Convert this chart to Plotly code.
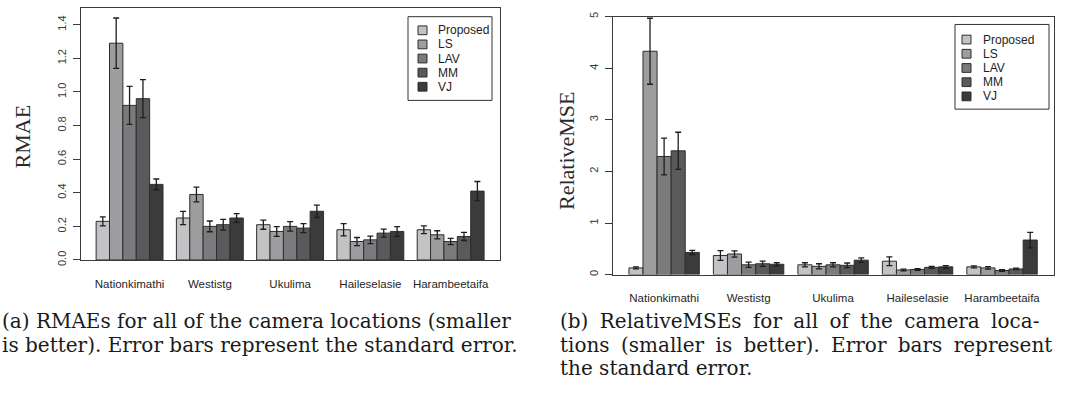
import plotly.graph_objects as go

# ---- data -------------------------------------------------------------
locations = ["Nationkimathi", "Westistg", "Ukulima", "Haileselasie", "Harambeetaifa"]
methods = ["Proposed", "LS", "LAV", "MM", "VJ"]
colors = ["#c3c3c6", "#9d9da0", "#7b7b7e", "#5a5a5c", "#3b3b3c"]

# RMAE (mean per location) and its standard error
rmae_proposed = [0.23, 0.25, 0.21, 0.18, 0.18]
rmae_ls = [1.29, 0.39, 0.17, 0.11, 0.15]
rmae_lav = [0.92, 0.20, 0.20, 0.12, 0.11]
rmae_mm = [0.96, 0.21, 0.19, 0.16, 0.14]
rmae_vj = [0.45, 0.25, 0.29, 0.17, 0.41]

rmae_se_proposed = [0.027, 0.039, 0.027, 0.037, 0.023]
rmae_se_ls = [0.150, 0.044, 0.029, 0.024, 0.024]
rmae_se_lav = [0.113, 0.032, 0.028, 0.022, 0.019]
rmae_se_mm = [0.113, 0.032, 0.027, 0.024, 0.024]
rmae_se_vj = [0.032, 0.026, 0.037, 0.029, 0.057]

# Relative MSE (mean per location) and its standard error
rmse_proposed = [0.13, 0.37, 0.19, 0.26, 0.15]
rmse_ls = [4.33, 0.40, 0.16, 0.09, 0.13]
rmse_lav = [2.29, 0.19, 0.19, 0.10, 0.08]
rmse_mm = [2.40, 0.21, 0.18, 0.14, 0.11]
rmse_vj = [0.43, 0.20, 0.28, 0.15, 0.67]

rmse_se_proposed = [0.020, 0.094, 0.040, 0.085, 0.020]
rmse_se_ls = [0.640, 0.060, 0.050, 0.016, 0.025]
rmse_se_lav = [0.355, 0.050, 0.040, 0.016, 0.015]
rmse_se_mm = [0.360, 0.050, 0.045, 0.020, 0.015]
rmse_se_vj = [0.040, 0.030, 0.044, 0.025, 0.150]

rmae_means = [rmae_proposed, rmae_ls, rmae_lav, rmae_mm, rmae_vj]
rmae_errs = [rmae_se_proposed, rmae_se_ls, rmae_se_lav, rmae_se_mm, rmae_se_vj]
rmse_means = [rmse_proposed, rmse_ls, rmse_lav, rmse_mm, rmse_vj]
rmse_errs = [rmse_se_proposed, rmse_se_ls, rmse_se_lav, rmse_se_mm, rmse_se_vj]

caption_a = [
    "(a) RMAEs for all of the camera locations (smaller",
    "is better). Error bars represent the standard error.",
]
caption_b = [
    "(b) RelativeMSEs for all of the camera loca-",
    "tions (smaller is better). Error bars represent",
    "the standard error.",
]

# ---- layout helpers ---------------------------------------------------
W, H = 1071, 412
SANS = "Liberation Sans, Arial, sans-serif"
SERIF = "Liberation Serif, Times New Roman, serif"
CAPTION_FONT = "DejaVu Serif, serif"
AXIS_COLOR = "#3a3a3a"


def px(x):
    return x / W


def py(y):
    return 1 - y / H


def widen(line):
    # stretch the word gaps so a full line fills the column width
    return line.replace(" ", " \u2005")


fig = go.Figure()

panels = [
    # (means, errors, x-axis id, y-axis id)
    (rmae_means, rmae_errs, "x", "y"),
    (rmse_means, rmse_errs, "x2", "y2"),
]

for means, errs, xa, ya in panels:
    for name, col, m, e in zip(methods, colors, means, errs):
        fig.add_trace(go.Bar(
            x=locations, y=m, name=name, xaxis=xa, yaxis=ya,
            marker=dict(color=col, line=dict(color="#2e2e2e", width=1)),
            error_y=dict(type="data", array=e, visible=True,
                         color="#1e1e1e", thickness=1.3, width=3),
            showlegend=False,
        ))

xcommon = dict(
    type="category", range=[-0.605, 4.615], showline=True, mirror=True,
    linecolor=AXIS_COLOR, linewidth=1, ticks="", showgrid=False,
    zeroline=False, tickfont=dict(family=SANS, size=11.5, color="#262626"),
    ticklabelstandoff=13,
)
ycommon = dict(
    showline=True, mirror=True, linecolor=AXIS_COLOR, linewidth=1,
    ticks="outside", ticklen=7, tickcolor=AXIS_COLOR, showgrid=False,
    zeroline=False, tickangle=-90,
    tickfont=dict(family=SANS, size=11, color="#3a3a3a"),
    ticklabelstandoff=3,
)

fig.update_layout(
    width=W, height=H, autosize=False,
    margin=dict(l=0, r=0, t=0, b=0),
    paper_bgcolor="white", plot_bgcolor="white",
    barmode="group", bargap=1 / 6, bargroupgap=0,
    xaxis=dict(domain=[px(81), px(500)], anchor="y", **xcommon),
    yaxis=dict(domain=[py(262), py(3)], anchor="x", range=[0, 1.5],
               tickvals=[0, 0.2, 0.4, 0.6, 0.8, 1.0, 1.2, 1.4],
               ticktext=["0.0", "0.2", "0.4", "0.6", "0.8", "1.0", "1.2", "1.4"],
               **ycommon),
    xaxis2=dict(domain=[px(613), px(1054)], anchor="y2", **xcommon),
    yaxis2=dict(domain=[py(277), py(12)], anchor="x2", range=[0, 5],
                tickvals=[0, 1, 2, 3, 4, 5], **ycommon),
)

annotations = []
shapes = []

# axis titles
annotations.append(dict(
    text="RMAE", x=px(22), y=py(135), xref="paper", yref="paper",
    textangle=-90, showarrow=False, xanchor="center", yanchor="middle",
    font=dict(family=SERIF, size=22, color="#2a2a2a"),
))
annotations.append(dict(
    text="RelativeMSE", x=px(567), y=py(150), xref="paper", yref="paper",
    textangle=-90, showarrow=False, xanchor="center", yanchor="middle",
    font=dict(family=SERIF, size=22, color="#2a2a2a"),
))


# legend boxes drawn per panel
def add_legend(box_l, box_t, box_r, box_b, sq_x, txt_x, row0, step):
    shapes.append(dict(
        type="rect", xref="paper", yref="paper",
        x0=px(box_l), x1=px(box_r), y0=py(box_b), y1=py(box_t),
        line=dict(color="#333333", width=1), fillcolor="white",
    ))
    for i, (name, col) in enumerate(zip(methods, colors)):
        cy = row0 + i * step
        shapes.append(dict(
            type="rect", xref="paper", yref="paper",
            x0=px(sq_x), x1=px(sq_x + 9), y0=py(cy + 4.5), y1=py(cy - 4.5),
            line=dict(color="#2e2e2e", width=1), fillcolor=col,
        ))
        annotations.append(dict(
            text=name, x=px(txt_x), y=py(cy), xref="paper", yref="paper",
            showarrow=False, xanchor="left", yanchor="middle",
            font=dict(family=SANS, size=12, color="#1e1e1e"),
        ))


add_legend(408, 12, 492, 98, 418, 436, 26, 14.5)
add_legend(955, 20, 1049, 107, 962, 981, 35.5, 14.6)

# captions
for i, line in enumerate(caption_a):
    annotations.append(dict(
        text=line, x=px(0), y=py(325 + i * 24), xref="paper", yref="paper",
        showarrow=False, xanchor="left", yanchor="middle",
        font=dict(family=CAPTION_FONT, size=20, color="#1a1a1a"),
    ))
for i, line in enumerate(caption_b):
    text = widen(line) if i < len(caption_b) - 1 else line
    annotations.append(dict(
        text=text, x=px(558), y=py(325 + i * 24), xref="paper", yref="paper",
        showarrow=False, xanchor="left", yanchor="middle",
        font=dict(family=CAPTION_FONT, size=20, color="#1a1a1a"),
    ))

fig.update_layout(annotations=annotations, shapes=shapes)
fig.write_html("out.html")
